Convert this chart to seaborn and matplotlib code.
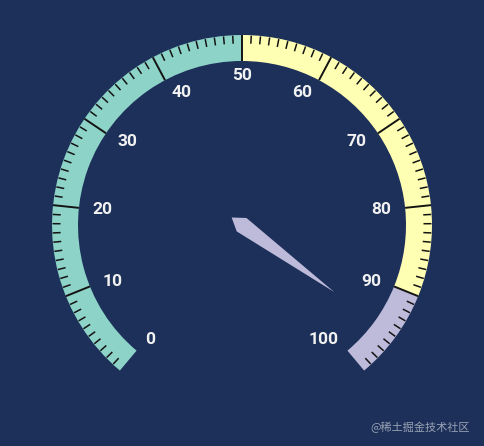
import numpy as np
import matplotlib
matplotlib.use('Agg')
import matplotlib.pyplot as plt
from matplotlib.patches import Wedge, Polygon
import seaborn as sns

# datos del medidor
valor_min = 0
valor_max = 100
valor = 95
cortes = [0, 50, 90, 100]          # limites de cada tramo de color
etiquetas = [0, 10, 20, 30, 40, 50, 60, 70, 80, 90, 100]
marca_agua = '@稀土掘金技术社区'

sns.set_theme(style='dark')
plt.rcParams['font.family'] = ['Roboto', 'Noto Sans CJK SC', 'DejaVu Sans']

colores = sns.color_palette('Set3', 3)
fondo = '#1c3059'

# geometria (pixeles)
cx, cy = 242, 446 - 225
r_ext = 190
ancho = 26
ang_ini, ang_fin = 230, -50


def angulo(v):
    return ang_ini + (ang_fin - ang_ini) * (v - valor_min) / (valor_max - valor_min)


fig = plt.figure(figsize=(4.85, 4.46), dpi=100, facecolor=fondo)
ax = fig.add_axes([0, 0, 1, 1])
ax.set_facecolor(fondo)
ax.set_xlim(0, 485)
ax.set_ylim(0, 446)
ax.axis('off')

# tramos de color
for i in range(len(cortes) - 1):
    a1, a2 = angulo(cortes[i]), angulo(cortes[i + 1])
    ax.add_patch(Wedge((cx, cy), r_ext, a2, a1, width=ancho, color=colores[i], lw=0))

# marcas (menores cada 1, mayores cada 10, sin las de los extremos)
for v in np.arange(valor_min + 1, valor_max, 1):
    a = np.radians(angulo(v))
    if v % 10 == 0:
        r0, r1, lw = r_ext, r_ext - ancho, 1.4
    else:
        r0, r1, lw = r_ext - 0.5, r_ext - 8.5, 1.1
    ax.plot([cx + r0 * np.cos(a), cx + r1 * np.cos(a)],
            [cy + r0 * np.sin(a), cy + r1 * np.sin(a)],
            color='#141414', lw=lw, solid_capstyle='butt')

# etiquetas
for v in etiquetas:
    a = np.radians(angulo(v))
    ux = np.cos(a)
    ha = 'left' if ux < -0.4 else ('right' if ux > 0.4 else 'center')
    ax.text(cx + 150 * ux, cy + 150 * np.sin(a), str(v), ha=ha, va='center',
            fontsize=12.5, fontweight='bold', color='#f2f2f2')

# aguja
a = np.radians(angulo(valor))
largo = 0.6 * r_ext
pts_local = [(-12.8, 0), (-0.5, 8.3), (largo, 0), (-0.5, -8.3)]
pts = [(cx + p * np.cos(a) - q * np.sin(a), cy + p * np.sin(a) + q * np.cos(a)) for p, q in pts_local]
idx = np.searchsorted(cortes, valor, side='left') - 1
ax.add_patch(Polygon(pts, closed=True, color=colores[max(idx, 0)], lw=0))

ax.text(470, 19, marca_agua, ha='right', va='center', fontsize=8,
        color='#9aa3b5', family=['Noto Sans CJK SC', 'DejaVu Sans'])

fig.savefig('out.png', dpi=100, facecolor=fondo)
